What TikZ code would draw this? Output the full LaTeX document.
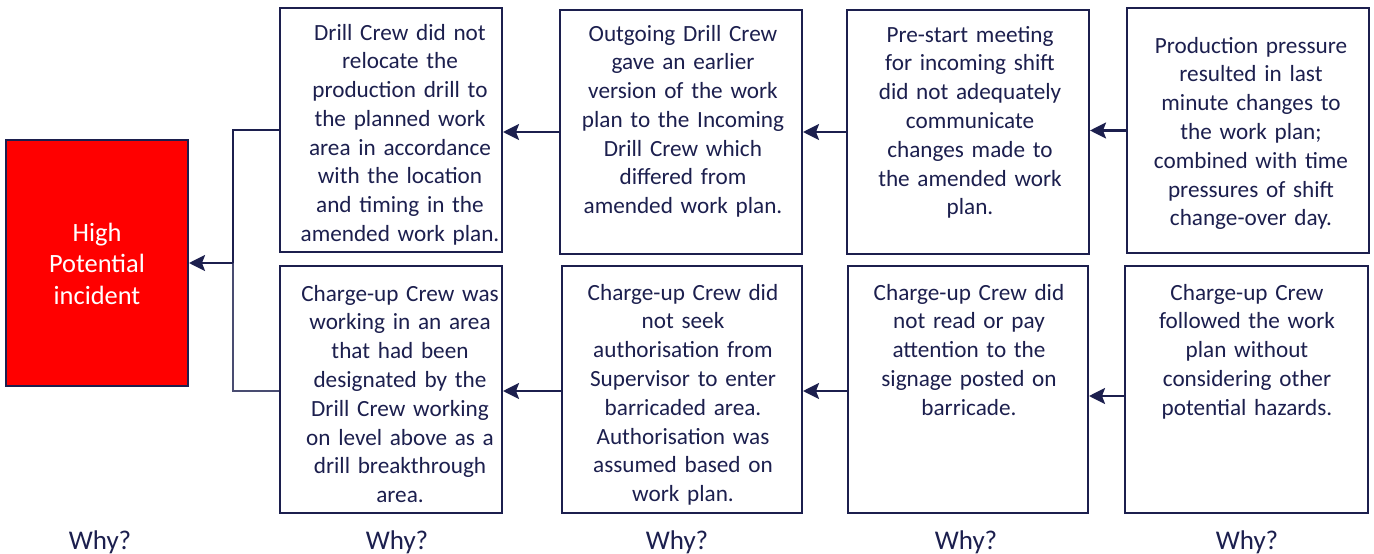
\documentclass[tikz,border=0pt]{standalone}
\usepackage{fontspec}
\setmainfont{Carlito}
\usetikzlibrary{arrows.meta}
\definecolor{navy}{HTML}{1C1F4E}
\definecolor{hpired}{HTML}{FF0000}
\begin{document}
\begin{tikzpicture}[x=1pt,y=-1pt,
  box/.style={draw=navy,line width=2pt,inner sep=0pt,fill=white},
  txt/.style={text=navy,align=center,anchor=base,inner sep=0pt,
    font=\fontsize{23.2}{28.8}\selectfont},
  why/.style={text=navy,anchor=base,inner sep=0pt,font=\fontsize{27}{30}\selectfont},
  arr/.style={draw=navy,line width=2.5pt,-{Stealth[length=16pt,width=16pt,inset=3pt]}},
  link/.style={draw=navy,line width=2.5pt},
  thinlink/.style={draw=navy!80,line width=1.2pt}]
\useasboundingbox (0,0) rectangle (1374,554);

% the incident
\node[box,fill=hpired,minimum width=182pt,minimum height=246pt] (hpi) at (97,263) {};
\node[txt,text=white,font=\fontsize{26.4}{31.5}\selectfont,text width=175pt] at (97,241)
  {High\\Potential\\incident};

% first chain: planning and shift change
\node[box,minimum width=222pt,minimum height=244pt] (a1) at (391,130) {};
\node[box,minimum width=242pt,minimum height=244pt] (a2) at (681,132) {};
\node[box,minimum width=242pt,minimum height=244pt] (a3) at (968,132) {};
\node[box,minimum width=242pt,minimum height=245pt] (a4) at (1248,130.5) {};

\node[txt,text width=215pt] at (400,40) {Drill Crew did not\\relocate the\\production drill to\\the planned work\\area in accordance\\with the location\\and timing in the\\amended work plan.};
\node[txt,text width=235pt] at (683,41) {Outgoing Drill Crew\\gave an earlier\\version of the work\\plan to the Incoming\\Drill Crew which\\differed from\\amended work plan.};
\node[txt,text width=235pt] at (970,42) {Pre-start meeting\\for incoming shift\\did not adequately\\communicate\\changes made to\\the amended work\\plan.};
\node[txt,text width=235pt] at (1251,53) {Production pressure\\resulted in last\\minute changes to\\the work plan;\\combined with time\\pressures of shift\\change-over day.};

% second chain: charge-up crew
\node[box,minimum width=222pt,minimum height=247pt] (b1) at (391,389.5) {};
\node[box,minimum width=240pt,minimum height=247pt] (b2) at (682,389.5) {};
\node[box,minimum width=240pt,minimum height=247pt] (b3) at (968,389.5) {};
\node[box,minimum width=243pt,minimum height=247pt] (b4) at (1246.5,389.5) {};

\node[txt,text width=215pt] at (400,301) {Charge-up Crew was\\working in an area\\that had been\\designated by the\\Drill Crew working\\on level above as a\\drill breakthrough\\area.};
\node[txt,text width=235pt] at (683,300) {Charge-up Crew did\\not seek\\authorisation from\\Supervisor to enter\\barricaded area.\\Authorisation was\\assumed based on\\work plan.};
\node[txt,text width=235pt] at (969,300) {Charge-up Crew did\\not read or pay\\attention to the\\signage posted on\\barricade.};
\node[txt,text width=235pt] at (1247,300) {Charge-up Crew\\followed the work\\plan without\\considering other\\potential hazards.};

% causal links
\draw[arr] (a4.west) -- (a3.east |- a4.west);
\draw[arr] (a3.west) -- (a2.east |- a3.west);
\draw[arr] (a2.west) -- (a1.east |- a2.west);
\draw[arr] ([yshift=-6.5pt]b4.west) -- ([yshift=-6.5pt]b3.east |- b4.west);
\draw[arr] ([yshift=-1.5pt]b3.west) -- ([yshift=-1.5pt]b2.east |- b3.west);
\draw[arr] ([yshift=-1.5pt]b2.west) -- ([yshift=-1.5pt]b1.east |- b2.west);

\coordinate (join) at (233,263);
\draw[thinlink] ([yshift=-1.5pt]b1.west) -| (join);
\draw[link] (a1.west) -| (join);
\draw[arr] (join) -- (hpi.east);

% why column labels
\node[why] (w0) at (100,549) {Why?};
\node[why] (w1) at (397,549) {Why?};
\node[why] (w2) at (677,549) {Why?};
\node[why] (w3) at (966,549) {Why?};
\node[why] (w4) at (1247,549) {Why?};
\end{tikzpicture}
\end{document}
